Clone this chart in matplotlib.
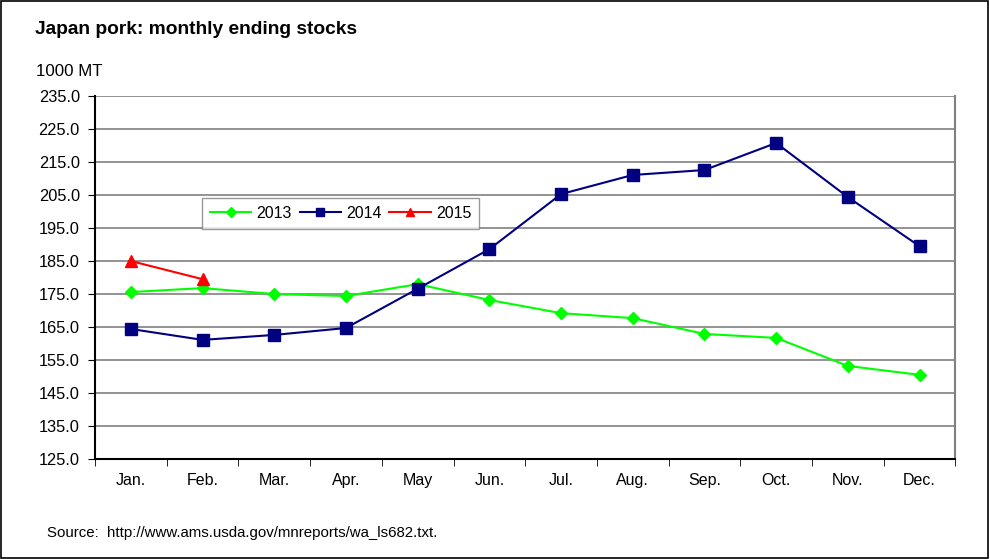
import matplotlib.pyplot as plt
from matplotlib.patches import Rectangle

plt.rcParams['font.family'] = ['Liberation Sans', 'DejaVu Sans']

months = ['Jan.', 'Feb.', 'Mar.', 'Apr.', 'May', 'Jun.', 'Jul.', 'Aug.', 'Sep.', 'Oct.', 'Nov.', 'Dec.']
stocks_2013 = [175.6, 176.8, 175.0, 174.4, 178.0, 173.2, 169.2, 167.7, 162.9, 161.7, 153.2, 150.5]
stocks_2014 = [164.4, 161.1, 162.6, 164.7, 176.6, 188.6, 205.3, 211.1, 212.6, 220.8, 204.4, 189.5]
stocks_2015 = [185.0, 179.5]
y_ticks = [125.0 + 10 * i for i in range(12)]

fig = plt.figure(figsize=(9.9, 5.59), dpi=100)
fig.patches.append(Rectangle((0.001, 0.001), 0.997, 0.997, transform=fig.transFigure,
                             fill=False, edgecolor='black', linewidth=1.2))
ax = fig.add_axes([0.096, 0.179, 0.869, 0.649])

x = list(range(len(months)))
ax.plot(x, stocks_2013, color='#00ff00', marker='D', markersize=6, linewidth=1.5, label='2013', zorder=3)
ax.plot(x, stocks_2014, color='#000080', marker='s', markersize=8, linewidth=1.5, label='2014', zorder=4)
ax.plot(x[:len(stocks_2015)], stocks_2015, color='#ff0000', marker='^', markersize=8, linewidth=1.5,
        label='2015', zorder=5)

ax.set_xlim(-0.5, 11.5)
ax.set_ylim(125, 235)
ax.set_yticks(y_ticks)
ax.set_yticklabels([f'{v:.1f}' for v in y_ticks], fontsize=11.8)
ax.set_xticks(x)
ax.set_xticklabels(months, fontsize=11.5)
ax.set_xticks([i - 0.5 for i in range(13)], minor=True)
ax.tick_params(axis='x', which='major', length=0, pad=10)
ax.tick_params(axis='x', which='minor', length=5, direction='out')
ax.tick_params(axis='y', length=5, direction='out', pad=6)
ax.grid(axis='y', color='#808080', linewidth=1.2)
ax.set_axisbelow(True)

ax.spines['left'].set_color('black')
ax.spines['left'].set_linewidth(1.5)
ax.spines['bottom'].set_color('black')
ax.spines['bottom'].set_linewidth(1.5)
ax.spines['right'].set_color('#808080')
ax.spines['right'].set_linewidth(1.5)
ax.spines['top'].set_visible(False)

leg = ax.legend(loc='upper left', bbox_to_anchor=(0.115, 0.742), ncol=3, fontsize=11.5,
                frameon=True, fancybox=False, edgecolor='#808080', handlelength=2.6,
                columnspacing=0.5, handletextpad=0.3, borderpad=0.5, markerscale=0.8)
leg.get_frame().set_linewidth(1.0)

fig.text(0.035, 0.947, 'Japan pork: monthly ending stocks', fontsize=13.8, fontweight='bold', va='center')
fig.text(0.036, 0.872, '1000 MT', fontsize=12.2, va='center')
fig.text(0.047, 0.046, 'Source:  http://www.ams.usda.gov/mnreports/wa_ls682.txt.', fontsize=10.8, va='center')

fig.savefig('out.png', dpi=100)
